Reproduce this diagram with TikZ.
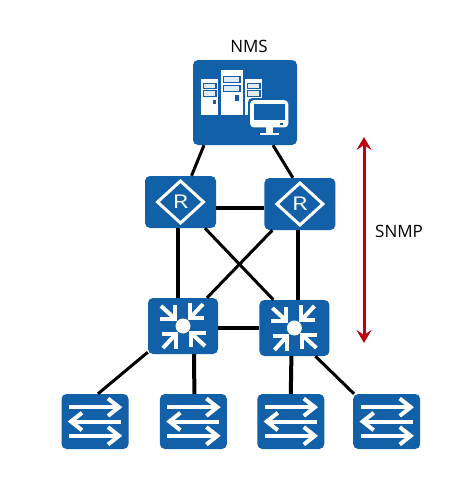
\documentclass[tikz,border=0pt]{standalone}
\usepackage{fontspec}
\setmainfont{Open Sans}
\usetikzlibrary{arrows.meta,positioning}
\definecolor{netblue}{RGB}{17,96,168}
\definecolor{snmpred}{RGB}{192,0,16}
\tikzset{
  pics/routericon/.style={code={
    \draw[white,line width=3pt,line join=miter] (-23pt,0pt) -- (0pt,21pt) -- (23pt,0pt) -- (0pt,-21pt) -- cycle;
    \node[text=white,inner sep=0pt,xscale=1.35,font=\fontsize{19}{19}\selectfont] (-letter) at (0pt,0pt) {R};
  }},
  pics/coreicon/.style={code={
    \fill[white] (0pt,0pt) circle (7.5pt);
    \foreach \ang in {0,90,180,270}{
      \begin{scope}[rotate=\ang,white,line width=4pt]
        \draw (-8pt,21pt) -- (-8pt,7pt) -- (-23pt,7pt);
        \draw (-10pt,9pt) -- (-22pt,20pt);
      \end{scope}
    }
  }},
  pics/accessicon/.style={code={
    \begin{scope}[white,line width=4pt]
      \draw (-26pt,14.3pt) -- (23pt,14.3pt);
      \draw (13pt,23pt) -- (24pt,14.3pt) -- (13pt,5.6pt);
      \draw (26pt,0pt) -- (-23pt,0pt);
      \draw (-13pt,8.7pt) -- (-24pt,0pt) -- (-13pt,-8.7pt);
      \draw (-26pt,-14.3pt) -- (23pt,-14.3pt);
      \draw (13pt,-5.6pt) -- (24pt,-14.3pt) -- (13pt,-23pt);
    \end{scope}
  }},
  pics/nmsicon/.style={code={
    \begin{scope}[x=0.3333pt,y=-0.3333pt,shift={(-195,-217)}]
      \fill[white] (62,145) rectangle (115,255);
      \fill[white] (122,120) rectangle (188,255);
      \fill[white] (194,145) rectangle (246,255);
      \foreach \bx/\by/\bw in {70/160/38,70/182/38,130/140/50,130/167/50,202/160/38,202/182/38}{
        \draw[netblue,line width=1.2pt,fill=white!88!netblue] (\bx,\by) rectangle ++(\bw,16);
      }
      \fill[netblue] (100,208) rectangle (107,220);
      \fill[netblue] (166,195) rectangle (178,212);
      \fill[netblue,rounded corners=4pt] (204,204) rectangle (331,298);
      \fill[white,rounded corners=4pt] (210,210) rectangle (325,292);
      \fill[netblue] (222,222) rectangle (315,270);
      \fill[netblue] (300,279) rectangle (309,285);
      \fill[white] (258,292) rectangle (280,308);
      \fill[white] (240,308) rectangle (298,316);
    \end{scope}
  }}
}
\begin{document}
\begin{tikzpicture}[
  device/.style={fill=netblue,rounded corners=5pt,inner sep=0pt},
  nmsbox/.style={device,minimum width=104pt,minimum height=85pt},
  routerbox/.style={device,minimum width=71pt,minimum height=52pt},
  corebox/.style={device,minimum width=70pt,minimum height=56pt},
  accessbox/.style={device,minimum width=67pt,minimum height=55pt},
  label/.style={inner sep=0pt,font=\fontsize{17}{20}\selectfont},
  link/.style={line width=4pt,draw=black},
  thinlink/.style={line width=3pt,draw=black},
  snmparrow/.style={{Stealth[length=13pt,width=15pt,inset=5pt]}-{Stealth[length=13pt,width=15pt,inset=5pt]},line width=3pt,draw=snmpred}
]
\useasboundingbox (0pt,0pt) rectangle (463pt,-490pt);
\node[nmsbox] (nms) at (245pt,-102.5pt) {};
\node[label,above=7pt of nms,xshift=4pt] (nmstext) {NMS};
\node[routerbox] (routera) at (180.5pt,-202pt) {};
\node[routerbox,right=48pt of routera,yshift=-2pt] (routerb) {};
\node[corebox] (corea) at (183pt,-326pt) {};
\node[corebox,right=41pt of corea,yshift=-2pt] (coreb) {};
\node[accessbox] (accessa) at (95pt,-421.5pt) {};
\node[accessbox,right=31pt of accessa] (accessb) {};
\node[accessbox,right=30pt of accessb] (accessc) {};
\node[accessbox,right=28.5pt of accessc] (accessd) {};
\coordinate (snmptop) at (364pt,-137pt);
\coordinate (snmpbot) at (364pt,-343pt);
\node[label,anchor=west] (snmptext) at (375pt,-231pt) {SNMP};
% icons
\pic at (nms) {nmsicon};
\pic (ra) at (routera) {routericon};
\pic (rb) at (routerb) {routericon};
\pic at (corea) {coreicon};
\pic at (coreb) {coreicon};
\pic at (accessa) {accessicon};
\pic at (accessb) {accessicon};
\pic at (accessc) {accessicon};
\pic at (accessd) {accessicon};
% links
\draw[thinlink] ([xshift=-41pt]nms.south) -- ([xshift=11pt]routera.north);
\draw[thinlink] ([xshift=28pt]nms.south) -- ([xshift=-7pt]routerb.north);
\draw[link] ([yshift=-6pt]routera.east) -- ([yshift=-4pt]routerb.west);
\draw[link] ([xshift=-2.5pt]routera.south) -- ([xshift=-5pt]corea.north);
\draw[link] ([xshift=-1.5pt]routerb.south) -- ([xshift=4pt]coreb.north);
\draw[thinlink] ([xshift=24.5pt]routera.south) -- ([xshift=-21pt]coreb.north);
\draw[thinlink] ([xshift=-27.5pt]routerb.south) -- ([xshift=24pt]corea.north);
\draw[link] ([yshift=-2pt]corea.east) -- (coreb.west);
\draw[thinlink] ([yshift=2pt]corea.south west) -- ([xshift=3pt]accessa.north);
\draw[link] ([xshift=11pt]corea.south) -- ([xshift=1pt]accessb.north);
\draw[link] ([xshift=-3pt]coreb.south) -- (accessc.north);
\draw[thinlink] ([xshift=21pt]coreb.south) -- ([xshift=1pt]accessd.north west);
\draw[snmparrow] (snmptop) -- (snmpbot);
\end{tikzpicture}
\end{document}
